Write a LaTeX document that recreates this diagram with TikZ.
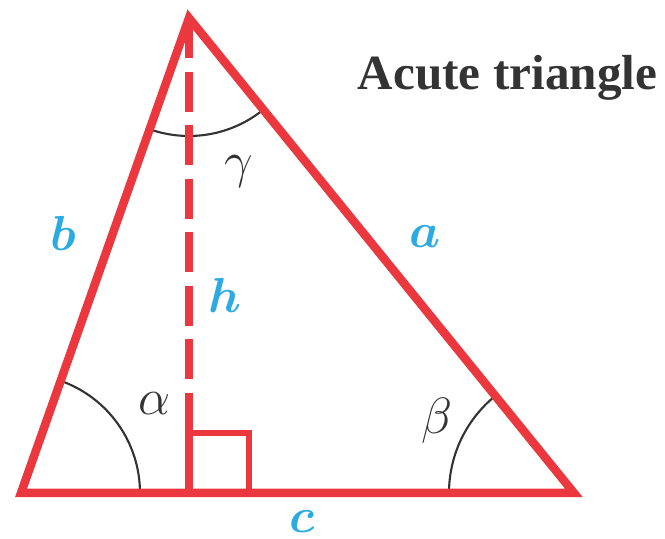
\RequirePackage{fix-cm}
\documentclass[tikz,border=0pt]{standalone}
\usepackage{fontspec}
\setmainfont{Liberation Serif}
\usetikzlibrary{calc,angles}
\definecolor{trired}{RGB}{234,56,62}
\definecolor{triblue}{RGB}{44,170,226}
\definecolor{trigray}{RGB}{51,51,51}

\begin{document}
\begin{tikzpicture}[inner sep=1pt]
  \useasboundingbox (0,0) rectangle (13.3,-10.78);
  \coordinate (A) at (0.42,-9.86);
  \coordinate (B) at (11.48,-9.86);
  \coordinate (C) at (3.78,-0.36);
  \coordinate (F) at (3.78,-9.86);
  \coordinate (S) at (3.78,-8.66);
  % angle arcs
  \path pic[draw, trigray, line width=1.2pt, angle radius=2.38cm] {angle=B--A--C};
  \path pic[draw, trigray, line width=1.2pt, angle radius=2.5cm] {angle=C--B--A};
  \path pic[draw, trigray, line width=1.2pt, angle radius=2.36cm] {angle=A--C--B};
  % sides, altitude and right angle
  \draw[trired, line width=0.17cm] (A) -- (B) -- (C) -- cycle;
  \draw[trired, line width=0.16cm, dash pattern=on 0.8cm off 0.2714cm] (C) -- (S);
  \draw[trired, line width=0.16cm] (S) -- (F);
  \draw[trired, line width=0.12cm] (S) rectangle ++(1.2,-1.2);
  % labels
  \node[text=triblue, font=\fontsize{28}{34}\selectfont\boldmath] (lb) at (1.26,-4.66) {$b$};
  \node[text=triblue, font=\fontsize{28}{34}\selectfont\boldmath] (la) at (8.5,-4.74) {$a$};
  \node[text=triblue, font=\fontsize{28}{34}\selectfont\boldmath] (lh) at (4.5,-5.9) {$h$};
  \node[text=triblue, font=\fontsize{28}{34}\selectfont\boldmath] (lc) at (6.04,-10.44) {$c$};
  \node[text=trigray, font=\fontsize{29}{35}\selectfont] (lalpha) at (3.1,-8.08) {$\alpha$};
  \node[text=trigray, font=\fontsize{29}{35}\selectfont] (lbeta) at (8.74,-8.42) {$\beta$};
  \node[text=trigray, font=\fontsize{29}{35}\selectfont] (lgamma) at (4.78,-3.42) {$\gamma$};
  \node[text=trigray, font=\fontsize{28}{34}\selectfont\bfseries, anchor=base] (title) at (10.15,-1.8) {Acute triangle};
\end{tikzpicture}
\end{document}
